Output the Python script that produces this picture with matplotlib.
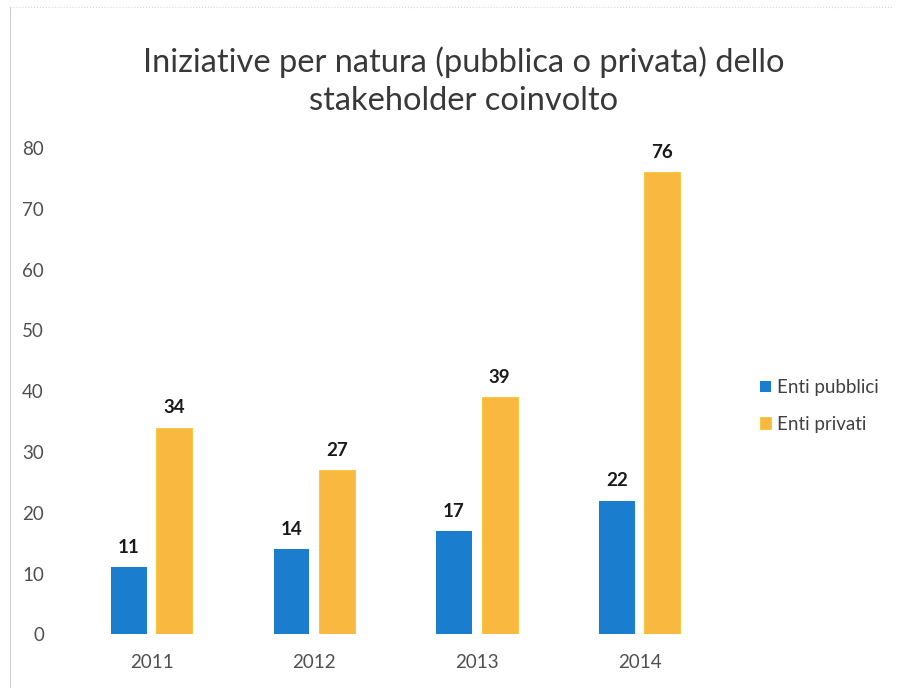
import matplotlib.pyplot as plt
import numpy as np

years = ["2011", "2012", "2013", "2014"]
enti_pubblici = [11, 14, 17, 22]
enti_privati = [34, 27, 39, 76]

BLUE = "#1a7dcd"
ORANGE = "#f9b840"

plt.rcParams['font.family'] = ['Lato', 'DejaVu Sans']

fig = plt.figure(figsize=(9.01, 6.88), dpi=100)
ax = fig.add_axes([0.078, 0.078, 0.722, 0.707])

x = np.arange(len(years))
w = 0.22
off = 0.14
b1 = ax.bar(x - off, enti_pubblici, w, color=BLUE, label="Enti pubblici")
b2 = ax.bar(x + off, enti_privati, w, color=ORANGE, edgecolor="#f7c52a", linewidth=0.6, label="Enti privati")

for bars in (b1, b2):
    for r in bars:
        ax.annotate(f"{int(r.get_height())}", (r.get_x() + r.get_width() / 2, r.get_height()),
                    xytext=(0, 8), textcoords="offset points", ha="center", va="bottom",
                    fontsize=13.5, fontweight="bold", color="#1a1a1a")

ax.set_xlim(-0.5, 3.5)
ax.set_ylim(0, 80)
ax.set_yticks(range(0, 81, 10))
ax.set_xticks(x)
ax.set_xticklabels(years)
ax.tick_params(axis="both", length=0, labelsize=13.5, colors="#505050")
ax.tick_params(axis="x", pad=14)
ax.tick_params(axis="y", pad=19)
for s in ax.spines.values():
    s.set_visible(False)

fig.suptitle("Iniziative per natura (pubblica o privata) dello\nstakeholder coinvolto",
             x=0.515, y=0.932, fontsize=23.5, color="#383838", linespacing=1.33)

leg = fig.legend(handles=[b1, b2], loc="center left", bbox_to_anchor=(0.825, 0.41),
                 frameon=False, fontsize=13.5, handlelength=0.55, handleheight=0.55,
                 handletextpad=0.35, labelspacing=1.05)
for t in leg.get_texts():
    t.set_color("#404040")

# faint scan border
fig.add_artist(plt.Line2D([0.011, 0.011], [0.0, 0.99], color="#d0d0d0", lw=0.8, transform=fig.transFigure))
fig.add_artist(plt.Line2D([0.011, 0.99], [0.99, 0.99], color="#d8d8d8", lw=0.8, ls=":", transform=fig.transFigure))

fig.savefig("out.png", dpi=100)
